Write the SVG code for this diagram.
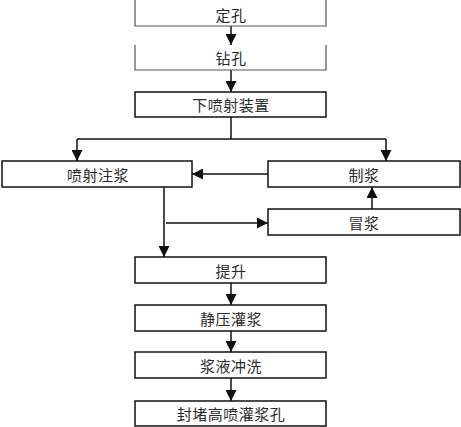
<svg xmlns="http://www.w3.org/2000/svg" width="461" height="427" viewBox="0 0 461 427">
<style>
.box{fill:#fff;stroke:#111;stroke-width:1.5}
.open{fill:none;stroke:#555;stroke-width:1.2}
.t{font-family:"Noto Sans CJK SC","Liberation Sans",sans-serif;font-size:15px;fill:#2a2a2a;text-anchor:middle;dominant-baseline:central;letter-spacing:0.5px}
.ln{fill:none;stroke:#111;stroke-width:1.5}
</style>
<defs>
<marker id="ah" viewBox="0 0 11 11" refX="11" refY="5.5" markerWidth="11" markerHeight="11" markerUnits="userSpaceOnUse" orient="auto">
<path d="M0,0 L11,5.5 L0,11 Z" fill="#111"/>
</marker>
</defs>
<rect width="461" height="427" fill="#fff"/>
<g id="connectors">
<line class="ln" x1="231" y1="26" x2="231" y2="45" marker-end="url(#ah)"/>
<line class="ln" x1="231" y1="70" x2="231" y2="92" marker-end="url(#ah)"/>
<polyline class="ln" points="231,117 231,139"/>
<polyline class="ln" points="77,139 386,139"/>
<line class="ln" x1="77" y1="139" x2="77" y2="161" marker-end="url(#ah)"/>
<line class="ln" x1="386" y1="139" x2="386" y2="161" marker-end="url(#ah)"/>
<line class="ln" x1="268" y1="174" x2="192" y2="174" marker-end="url(#ah)"/>
<line class="ln" x1="372" y1="209" x2="372" y2="187" marker-end="url(#ah)"/>
<line class="ln" x1="164" y1="187" x2="164" y2="257" marker-end="url(#ah)"/>
<line class="ln" x1="166" y1="223" x2="268" y2="223" marker-end="url(#ah)"/>
<line class="ln" x1="231" y1="283" x2="231" y2="305" marker-end="url(#ah)"/>
<line class="ln" x1="231" y1="331" x2="231" y2="352" marker-end="url(#ah)"/>
<line class="ln" x1="231" y1="378" x2="231" y2="401" marker-end="url(#ah)"/>
</g>
<g id="n1"><polyline class="open" points="135,0 135,26 326,26 326,0"/><text class="t" x="231" y="14">定孔</text></g>
<g id="n2"><polyline class="open" points="135,45 135,70 326,70 326,45"/><text class="t" x="231" y="57">钻孔</text></g>
<g id="n3"><rect class="box" x="135" y="92" width="191" height="25"/><text class="t" x="231" y="104.5">下喷射装置</text></g>
<g id="n4"><rect class="box" x="2" y="161" width="190" height="26"/><text class="t" x="98" y="174">喷射注浆</text></g>
<g id="n5"><rect class="box" x="268" y="161" width="192" height="26"/><text class="t" x="364" y="174">制浆</text></g>
<g id="n6"><rect class="box" x="268" y="209" width="192" height="26"/><text class="t" x="364" y="222">冒浆</text></g>
<g id="n7"><rect class="box" x="135" y="257" width="191" height="26"/><text class="t" x="231" y="270">提升</text></g>
<g id="n8"><rect class="box" x="135" y="305" width="191" height="26"/><text class="t" x="231" y="318">静压灌浆</text></g>
<g id="n9"><rect class="box" x="135" y="352" width="191" height="26"/><text class="t" x="231" y="365">浆液冲洗</text></g>
<g id="n10"><rect class="box" x="135" y="401" width="191" height="25"/><text class="t" x="231" y="413.5">封堵高喷灌浆孔</text></g>
</svg>
